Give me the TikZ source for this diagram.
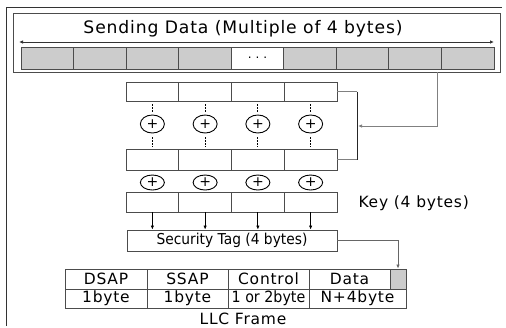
\documentclass[tikz,border=0pt]{standalone}
\usepackage{fontspec}
\setmainfont[LetterSpace=5]{DejaVu Sans}
\newfontfamily\narrowfont[FakeStretch=0.92]{DejaVu Sans}
\usetikzlibrary{shapes.geometric,arrows.meta}

\begin{document}
\begin{tikzpicture}[x=1pt,y=-1pt,
  line/.style={draw=black!70,line width=0.9pt},
  cell/.style={line,minimum width=52.7pt,inner sep=0pt},
  xor/.style={ellipse,draw=black,line width=0.9pt,minimum width=24pt,inner sep=0pt,font=\fontsize{14}{14}\selectfont},
  dots/.style={line width=1.2pt,dash pattern=on 1.1pt off 1.9pt},
  tip/.style={-{Latex[length=4pt,width=3.5pt]}},
  txt/.style={font=\fontsize{15.5}{15.5}\selectfont}]

\useasboundingbox (0,0) rectangle (506,327);
\draw[line,draw=black!80] (6,326) -- (6,7) -- (502,7);

% sending data
\node[line,minimum width=487pt,minimum height=59pt,inner sep=0pt] (data) at (256.5,42.5) {};
\node[font=\fontsize{17.2}{18}\selectfont] (title) at (243,29) {Sending Data (Multiple of 4 bytes)};
\coordinate (al) at (19,42);
\coordinate (ar) at (494,42);
\draw[black!80,line width=0.9pt,{Latex[length=4pt,width=3.5pt]}-{Latex[length=4pt,width=3.5pt]}] (al) -- (ar);
\foreach \i in {1,...,9}
  \node[cell,fill=black!20,minimum width=52.6pt,minimum height=22pt] (d\i) at ({21+52.56*(\i-0.5)},58) {};
\node[cell,fill=white,minimum width=52.6pt,minimum height=22pt,font=\fontsize{12}{12}\selectfont] (d5) at ({21+52.56*4.5},58) {.\,\,.\,\,.};

% blocks, xor and key
\foreach \i in {1,...,4} {
  \pgfmathsetmacro\cx{126+52.75*(\i-0.5)}
  \node[cell,minimum height=19pt] (a\i) at (\cx,91.5) {};
  \node[xor,minimum height=18pt] (x\i) at (\cx,124) {+};
  \node[cell,minimum height=21pt] (b\i) at (\cx,159.5) {};
  \node[xor,minimum height=15pt] (y\i) at (\cx,182.5) {+};
  \node[cell,minimum height=20pt] (k\i) at (\cx,202) {};
  \draw[dots,shorten <=3pt,shorten >=2pt] (a\i.south) -- (x\i.north);
  \draw[dots,shorten <=4pt,shorten >=2pt] (x\i.south) -- (b\i.north);
}
\node[txt,anchor=west] (key) at (355,203) {Key (4 bytes)};

% feedback
\coordinate (fb) at (357,126);
\coordinate (tap) at (437,72);
\draw[line,draw=black!50] (a4.east) -- (a4.east -| fb);
\draw[line,draw=black!50] (b4.east) -- (b4.east -| fb);
\draw[line,draw=black!85] (a4.east -| fb) -- (b4.east -| fb);
\draw[line,draw=black!50,tip,shorten >=1pt] (tap) |- (fb);

% tag
\node[line,minimum width=210pt,minimum height=21pt,inner sep=0pt,font=\narrowfont\fontsize{15}{15}\selectfont] (tag) at (232,240.5) {Security Tag (4 bytes)};
\foreach \i in {1,...,4}
  \draw[black,line width=0.8pt,tip] (k\i.south) -- (k\i.south |- tag.north);

% LLC frame
\node[line,txt,minimum width=82pt,minimum height=20pt,inner sep=0pt] (dsap) at (106,279) {DSAP};
\node[line,txt,minimum width=81pt,minimum height=20pt,inner sep=0pt] (ssap) at (187.5,279) {SSAP};
\node[line,txt,minimum width=81pt,minimum height=20pt,inner sep=0pt] (ctrl) at (268.5,279) {Control};
\node[line,txt,minimum width=81pt,minimum height=20pt,inner sep=0pt] (dat) at (349.5,279) {Data};
\node[line,fill=black!20,minimum width=16pt,minimum height=20pt,inner sep=0pt] (g) at (398,279) {};
\node[line,txt,minimum width=82pt,minimum height=19pt,inner sep=0pt] (dsapn) at (106,298.5) {1byte};
\node[line,txt,minimum width=81pt,minimum height=19pt,inner sep=0pt] (ssapn) at (187.5,298.5) {1byte};
\node[line,minimum width=81pt,minimum height=19pt,inner sep=0pt,font=\narrowfont\fontsize{15.5}{15.5}\selectfont] (ctrln) at (268.5,298.5) {1 or 2byte};
\node[line,txt,minimum width=97pt,minimum height=19pt,inner sep=0pt] (datn) at (357.5,298.5) {N+4byte};
\node[txt] (llc) at (243,319) {LLC Frame};
\draw[line,draw=black!60,tip] (tag.east) -| (g.north);

\end{tikzpicture}
\end{document}
